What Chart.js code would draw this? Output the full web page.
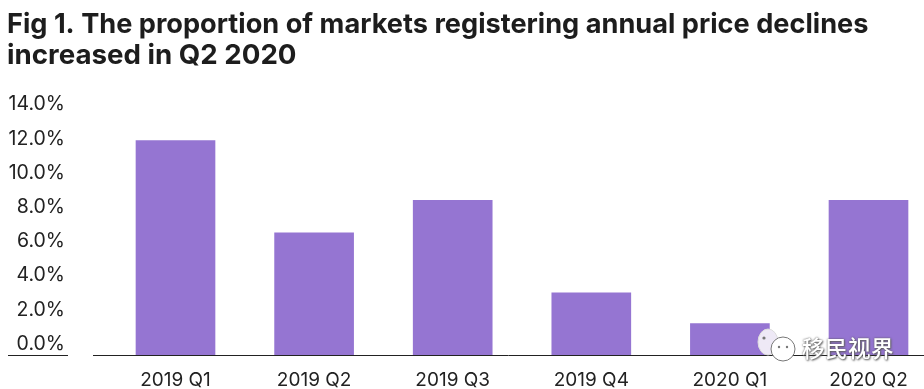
<!DOCTYPE html>
<html>
<head>
<meta charset="utf-8">
<style>
  html, body { margin: 0; padding: 0; background: #fff; overflow: hidden; }
  #wrap { position: relative; width: 924px; height: 389px; }
  #watermark {
    position: absolute; left: 802px; top: 333px;
    font: 500 22.5px "Noto Sans CJK SC"; letter-spacing: 0.5px; line-height: 28px;
    color: #fff; text-shadow: 0 0 2px #555, 1px 1px 2px #666;
  }
  #wechat { position: absolute; left: 757px; top: 327px; }
</style>
<script src="https://cdn.jsdelivr.net/npm/chart.js@4/dist/chart.umd.min.js"></script>
</head>
<body>
<div id="wrap">
  <canvas id="chart" width="924" height="389"></canvas>
  <svg id="wechat" width="46" height="36">
    <ellipse cx="11" cy="15" rx="10" ry="13" fill="#eee9f6" stroke="#ddd"/>
    <ellipse cx="26" cy="22" rx="12" ry="12" fill="#fff" stroke="#777"/>
    <circle cx="22" cy="20" r="1.2" fill="#777"/>
    <circle cx="30" cy="20" r="1.2" fill="#777"/>
    <circle cx="7" cy="11" r="1.6" fill="#777"/>
  </svg>
  <div id="watermark">移民视界</div>
</div>
<script>
const title_lines = [
  "Fig 1. The proportion of markets registering annual price declines",
  "increased in Q2 2020",
];
const categories = ["2019 Q1", "2019 Q2", "2019 Q3", "2019 Q4", "2020 Q1", "2020 Q2"];
const declines = [11.9, 6.5, 8.4, 3.0, 1.2, 8.4];
const y_ticks = [0, 2, 4, 6, 8, 10, 12, 14];

// the bars and the axis line sit a little below the printed 0.0% label
const y_floor = -0.64;

const baseline = {
  id: "baseline",
  afterDatasetsDraw(chart) {
    const ctx = chart.ctx;
    const y = chart.scales.y.getPixelForValue(y_floor);
    ctx.save();
    ctx.strokeStyle = "#222";
    ctx.lineWidth = 1;
    ctx.beginPath();
    ctx.moveTo(8, y + 0.5);
    ctx.lineTo(68, y + 0.5);
    ctx.moveTo(93, y + 0.5);
    ctx.lineTo(924, y + 0.5);
    ctx.stroke();
    ctx.restore();
  },
};

new Chart(document.getElementById("chart"), {
  type: "bar",
  data: {
    labels: categories,
    datasets: [
      {
        data: declines,
        base: y_floor,
        backgroundColor: "#9575d2",
        barThickness: 79,
        clip: false,
      },
    ],
  },
  options: {
    responsive: false,
    animation: false,
    layout: { padding: { left: 7, right: 55.5, top: 0, bottom: 0 } },
    plugins: {
      legend: { display: false },
      tooltip: { enabled: false },
      title: {
        display: true,
        text: title_lines,
        align: "start",
        color: "#1d1d1d",
        font: { family: "Inter", size: 27.7, weight: "700", lineHeight: 1.13 },
        padding: { top: 9, bottom: 33 },
      },
    },
    scales: {
      x: {
        offset: false,
        grid: { display: false },
        border: { display: false },
        afterFit(axis) {
          axis.height = 34;
        },
        ticks: {
          color: "#222",
          font: { family: "Inter", size: 19 },
          padding: 6,
          maxRotation: 0,
          autoSkip: false,
        },
      },
      y: {
        min: y_floor,
        max: 14,
        grid: { display: false },
        border: { display: false },
        afterBuildTicks(axis) {
          axis.ticks = y_ticks.map((v) => ({ value: v }));
        },
        afterFit(axis) {
          axis.width = 168.5;
          axis.paddingTop = 0;
          axis.paddingBottom = 0;
        },
        ticks: {
          color: "#222",
          font: { family: "Inter", size: 19.5 },
          padding: 102.5,
          callback: (v) => v.toFixed(1) + "%",
        },
      },
    },
  },
  plugins: [baseline],
});
</script>
</body>
</html>
